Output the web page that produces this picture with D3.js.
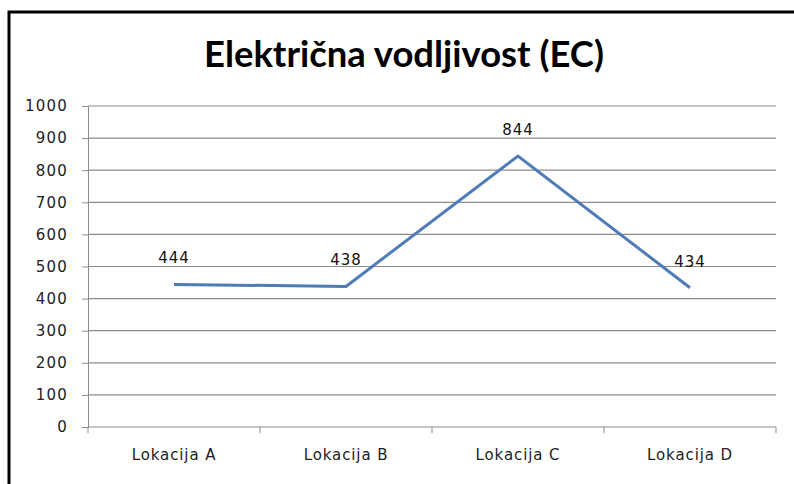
<!DOCTYPE html>
<html>
<head>
<meta charset="utf-8">
<script src="https://cdnjs.cloudflare.com/ajax/libs/d3/7.8.5/d3.min.js"></script>
<style>
    body { margin: 0; background: #fff; }
    svg { display: block; }
    .tick text { font-family: "DejaVu Sans", sans-serif; fill: #222; }
</style>
</head>
<body>
<svg width="794" height="484"></svg>
<script>
    // chart data
    var title = "Električna vodljivost (EC)";
    var locations = ["Lokacija A", "Lokacija B", "Lokacija C", "Lokacija D"];
    var ecValues = [444, 438, 844, 434];
    var yTicks = [0, 100, 200, 300, 400, 500, 600, 700, 800, 900, 1000];

    var svg = d3.select("svg");

    // outer frame (runs off the right and bottom edge)
    svg.append("rect")
        .attr("x", 9).attr("y", 12)
        .attr("width", 800).attr("height", 490)
        .attr("fill", "#fff")
        .attr("stroke", "#000")
        .attr("stroke-width", 3);

    var plotLeft = 88, plotRight = 776, plotTop = 106, plotBottom = 427;

    var x = d3.scaleBand().domain(locations).range([plotLeft, plotRight]);
    var y = d3.scaleLinear().domain([0, 1000]).range([plotBottom, plotTop]);

    // gridlines + y axis labels
    var yAxis = svg.append("g")
        .attr("transform", "translate(" + plotLeft + ",0)")
        .call(d3.axisLeft(y).tickValues(yTicks).tickSize(6).tickPadding(14).tickFormat(d3.format("d")));
    yAxis.select(".domain").attr("stroke", "#8c8c8c");
    yAxis.selectAll(".tick line").attr("stroke", "#8c8c8c");
    yAxis.selectAll(".tick text").style("font-size", "15px").attr("letter-spacing", "1.2px");

    svg.append("g")
        .selectAll("line")
        .data(yTicks.slice(1))
        .join("line")
        .attr("x1", plotLeft).attr("x2", plotRight)
        .attr("y1", d => y(d)).attr("y2", d => y(d))
        .attr("stroke", "#8c8c8c")
        .attr("stroke-width", 1.2);

    // x axis
    var xAxis = svg.append("g")
        .attr("transform", "translate(0," + plotBottom + ")")
        .call(d3.axisBottom(x).tickSize(0).tickPadding(22));
    xAxis.select(".domain").attr("stroke", "#8c8c8c").attr("stroke-width", 1.2)
        .attr("d", "M" + plotLeft + ",0H" + plotRight);
    xAxis.selectAll(".tick text").style("font-size", "15px").attr("letter-spacing", "0.9px");

    // category separator ticks
    svg.append("g")
        .selectAll("line")
        .data(locations.map(l => x(l)).concat([plotRight]))
        .join("line")
        .attr("x1", d => d).attr("x2", d => d)
        .attr("y1", plotBottom).attr("y2", plotBottom + 6)
        .attr("stroke", "#8c8c8c");

    // series line
    var line = d3.line()
        .x((d, i) => x(locations[i]) + x.bandwidth() / 2)
        .y(d => y(d));

    svg.append("path")
        .datum(ecValues)
        .attr("d", line)
        .attr("fill", "none")
        .attr("stroke", "#4f7bb7")
        .attr("stroke-width", 3);

    // data labels
    svg.append("g")
        .selectAll("text")
        .data(ecValues)
        .join("text")
        .attr("x", (d, i) => x(locations[i]) + x.bandwidth() / 2)
        .attr("y", d => y(d) - 21)
        .attr("text-anchor", "middle")
        .attr("font-family", "DejaVu Sans, sans-serif")
        .attr("font-size", 15)
        .attr("letter-spacing", "1px")
        .attr("fill", "#111")
        .text(d => d);

    // title, fitted to the width it has in the picture
    var t = svg.append("text")
        .attr("x", 404)
        .attr("y", 67)
        .attr("text-anchor", "middle")
        .attr("font-family", "Lato, sans-serif")
        .attr("font-weight", "bold")
        .attr("font-size", 33)
        .attr("fill", "#000")
        .text(title);
    var w = t.node().getComputedTextLength();
    t.attr("font-size", 33 * 400 / w);
</script>
</body>
</html>
